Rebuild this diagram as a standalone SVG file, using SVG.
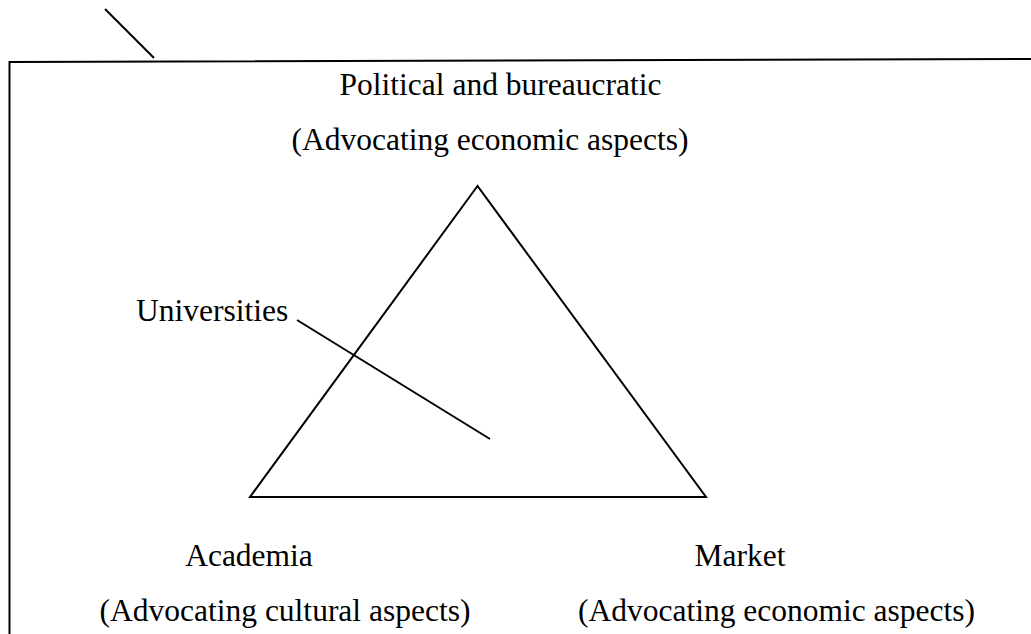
<svg xmlns="http://www.w3.org/2000/svg" width="1031" height="634" viewBox="0 0 1031 634">
<style>
.ln{stroke:#000;stroke-width:2;fill:none;stroke-linecap:butt}
.t{font-family:"Liberation Serif","Times New Roman",serif;font-size:31.5px;fill:#000}
</style>
<rect width="1031" height="634" fill="#fff"/>
<g id="frame">
<path class="ln" d="M9.5,634 V62 L1031,59"/>
<line class="ln" x1="105" y1="9" x2="154" y2="58"/>
</g>
<g id="triangle">
<polygon class="ln" points="477.5,186 250,497 706,497"/>
</g>
<g id="political">
<text class="t" x="500.5" y="95" text-anchor="middle">Political and bureaucratic</text>
<text class="t" x="490" y="150" text-anchor="middle">(Advocating economic aspects)</text>
</g>
<g id="universities">
<text class="t" x="136" y="321">Universities</text>
</g>
<g id="academia">
<text class="t" x="249" y="566" text-anchor="middle">Academia</text>
<text class="t" x="285" y="621" text-anchor="middle">(Advocating cultural aspects)</text>
</g>
<g id="market">
<text class="t" x="740" y="566" text-anchor="middle">Market</text>
<text class="t" x="776.5" y="621" text-anchor="middle">(Advocating economic aspects)</text>
</g>
<g id="connectors">
<line class="ln" x1="297" y1="320" x2="490" y2="439"/>
</g>
</svg>
